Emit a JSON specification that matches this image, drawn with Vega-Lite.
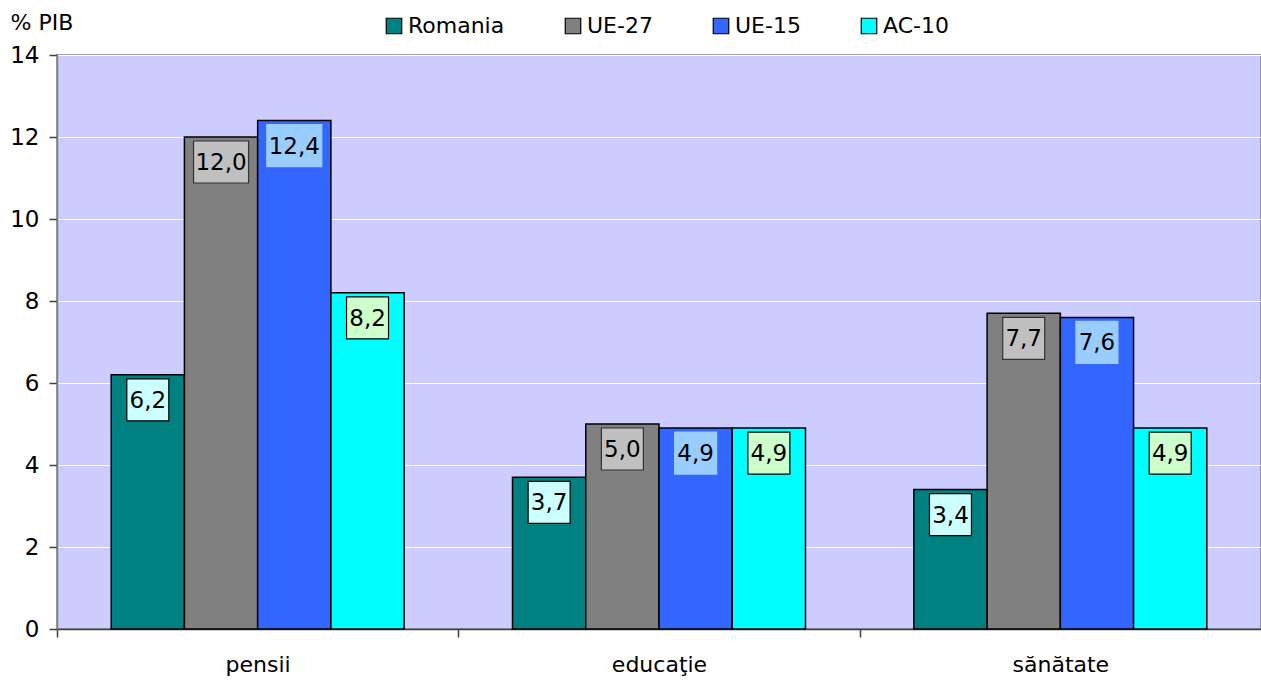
{
  "$schema": "https://vega.github.io/schema/vega-lite/v6.json",
  "width": 1204,
  "height": 574,
  "autosize": {"type": "none"},
  "padding": {"left": 57, "top": 55, "right": 0, "bottom": 55},
  "background": "white",
  "config": {
    "font": "DejaVu Sans",
    "locale": {"number": {"decimal": ",", "thousands": ".", "grouping": [3], "currency": ["", ""]}},
    "view": {"fill": "#CCCCFF", "stroke": "#808080", "strokeWidth": 1.5}
  },
  "data": {
    "values": [
      {"cat": "pensii", "serie": "Romania", "v": 6.2},
      {"cat": "pensii", "serie": "UE-27", "v": 12.0},
      {"cat": "pensii", "serie": "UE-15", "v": 12.4},
      {"cat": "pensii", "serie": "AC-10", "v": 8.2},
      {"cat": "educaţie", "serie": "Romania", "v": 3.7},
      {"cat": "educaţie", "serie": "UE-27", "v": 5.0},
      {"cat": "educaţie", "serie": "UE-15", "v": 4.9},
      {"cat": "educaţie", "serie": "AC-10", "v": 4.9},
      {"cat": "sănătate", "serie": "Romania", "v": 3.4},
      {"cat": "sănătate", "serie": "UE-27", "v": 7.7},
      {"cat": "sănătate", "serie": "UE-15", "v": 7.6},
      {"cat": "sănătate", "serie": "AC-10", "v": 4.9}
    ]
  },
  "encoding": {
    "x": {
      "field": "cat", "type": "nominal", "sort": ["pensii", "educaţie", "sănătate"],
      "scale": {"paddingInner": 0.27, "paddingOuter": 0.135},
      "axis": {
        "title": null, "labelAngle": 0, "labelFontSize": 22, "labelColor": "black",
        "labelPadding": 17, "tickOffset": -200.67, "labelOffset": 200.67, "tickSize": 8, "tickColor": "#404040",
        "tickWidth": 1.5, "domainColor": "#404040", "domainWidth": 1.5, "grid": false
      }
    },
    "xOffset": {
      "field": "serie", "type": "nominal", "sort": ["Romania", "UE-27", "UE-15", "AC-10"],
      "scale": {"paddingInner": 0, "paddingOuter": 0}
    },
    "y": {
      "field": "v", "type": "quantitative",
      "scale": {"domain": [0, 14], "nice": false},
      "axis": {
        "values": [0, 2, 4, 6, 8, 10, 12, 14], "format": "d",
        "title": "% PIB", "titleAngle": 0, "titleAlign": "left", "titleBaseline": "middle",
        "titleX": -47, "titleY": -33, "titleFontSize": 22, "titleFontWeight": "normal", "titleColor": "black",
        "labelFontSize": 23, "labelColor": "black", "labelPadding": 10,
        "tickSize": 8, "tickColor": "#404040", "tickWidth": 1.5,
        "domainColor": "#808080", "domainWidth": 1.5,
        "grid": true, "gridColor": "white", "gridWidth": 1.2
      }
    }
  },
  "layer": [
    {
      "mark": {"type": "bar", "stroke": "black", "strokeWidth": 1.5},
      "encoding": {
        "fill": {
          "field": "serie", "type": "nominal",
          "scale": {"domain": ["Romania", "UE-27", "UE-15", "AC-10"], "range": ["#008080", "#808080", "#3366FF", "#00FFFF"]},
          "legend": {
            "title": null, "orient": "none", "direction": "horizontal", "legendX": 326, "legendY": -40,
            "symbolType": "square", "symbolSize": 240, "symbolStrokeColor": "black", "symbolStrokeWidth": 1.2,
            "labelFontSize": 22, "labelColor": "black", "labelOffset": 3, "columnPadding": 57
          }
        }
      }
    },
    {
      "transform": [{"filter": "datum.v < 10"}],
      "mark": {"type": "point", "shape": "square", "filled": true, "size": 1764, "yOffset": 25, "strokeWidth": 1.2, "opacity": 1},
      "encoding": {
        "fill": {
          "field": "serie", "type": "nominal",
          "scale": {"domain": ["Romania", "UE-27", "UE-15", "AC-10"], "range": ["#CCFFFF", "#C0C0C0", "#99CCFF", "#CCFFCC"]},
          "legend": null
        },
        "stroke": {
          "field": "serie", "type": "nominal",
          "scale": {"domain": ["Romania", "UE-27", "UE-15", "AC-10"], "range": ["black", "#333333", "#99CCFF", "black"]},
          "legend": null
        }
      }
    },
    {
      "transform": [{"filter": "datum.v >= 10"}],
      "mark": {"type": "point", "shape": "M-1.31,-1H1.31V1H-1.31Z", "filled": true, "size": 1764, "yOffset": 25, "strokeWidth": 1.2, "opacity": 1},
      "encoding": {
        "fill": {
          "field": "serie", "type": "nominal",
          "scale": {"domain": ["Romania", "UE-27", "UE-15", "AC-10"], "range": ["#CCFFFF", "#C0C0C0", "#99CCFF", "#CCFFCC"]},
          "legend": null
        },
        "stroke": {
          "field": "serie", "type": "nominal",
          "scale": {"domain": ["Romania", "UE-27", "UE-15", "AC-10"], "range": ["black", "#333333", "#99CCFF", "black"]},
          "legend": null
        }
      }
    },
    {
      "mark": {"type": "text", "yOffset": 26, "baseline": "middle", "align": "center", "fontSize": 23, "color": "black"},
      "encoding": {
        "text": {"field": "v", "type": "quantitative", "format": ".1f"}
      }
    }
  ],
  "resolve": {"scale": {"fill": "independent"}}
}
